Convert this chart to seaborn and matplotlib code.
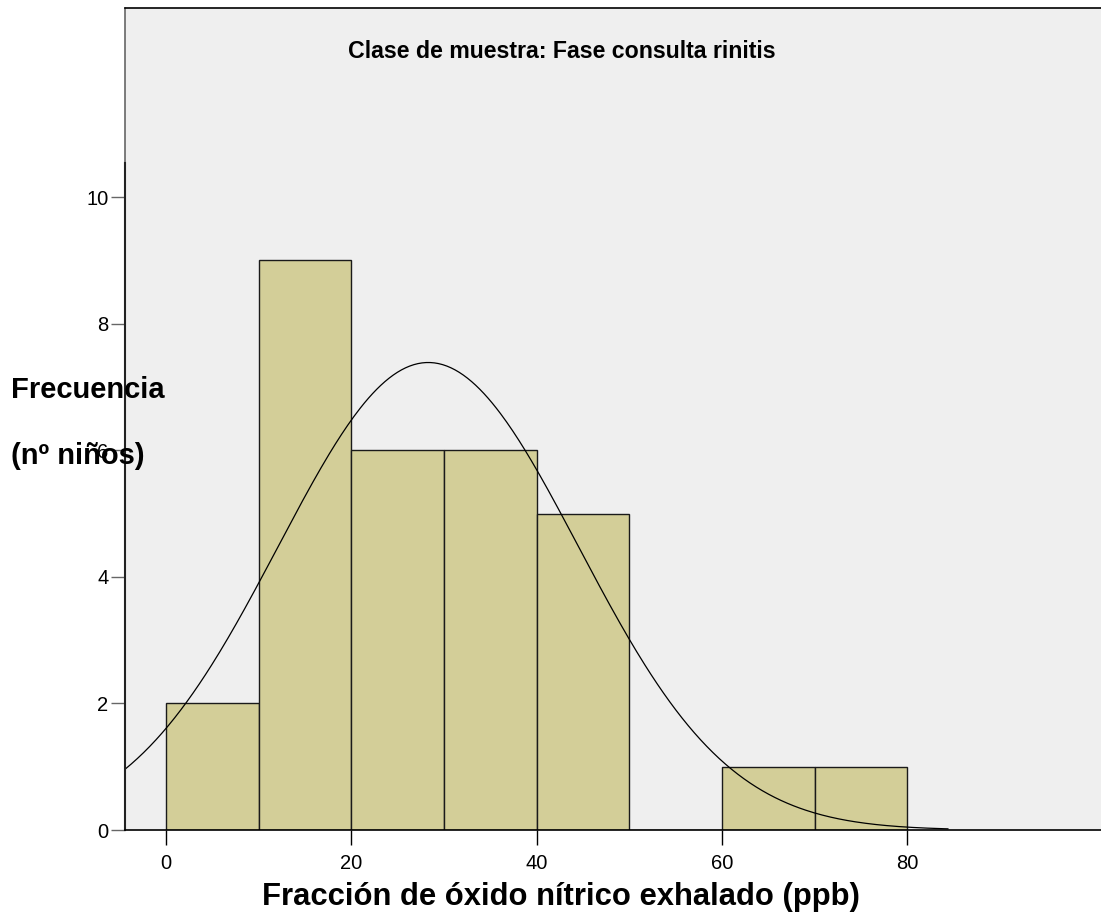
import numpy as np
import matplotlib
matplotlib.use("Agg")
import matplotlib.pyplot as plt
import seaborn as sns

# Data
bin_edges = [0, 10, 20, 30, 40, 50, 60, 70, 80]
counts = [2, 9, 6, 6, 5, 0, 1, 1]
curve_mean = 28.3
curve_sd = 16.2
n_total = 30
bin_width = 10
x_ticks = [0, 20, 40, 60, 80]
y_ticks = [0, 2, 4, 6, 8, 10]
title = "Clase de muestra: Fase consulta rinitis"
xlabel = "Fracción de óxido nítrico exhalado (ppb)"
ylabel_lines = ["Frecuencia", "(nº niños)"]

sns.set_theme(style="white")
plt.rcParams['font.family'] = ['Liberation Sans', 'DejaVu Sans']
plt.rcParams['text.color'] = 'black'
plt.rcParams['xtick.labelcolor'] = 'black'
plt.rcParams['ytick.labelcolor'] = 'black'

W, H = 1101, 916
fig = plt.figure(figsize=(W / 100, H / 100), dpi=100)
ax = fig.add_axes([125 / W, (H - 830) / H, (1101 - 125) / W, (830 - 8) / H])
ax.set_facecolor("#EFEFEF")

centers = [(a + b) / 2 for a, b in zip(bin_edges[:-1], bin_edges[1:])]
sns.histplot(x=centers, weights=counts, bins=bin_edges, ax=ax,
             color="#D3CE98", alpha=1.0, edgecolor="#1a1a1a", linewidth=1.0)

xmin, xmax = -4.43, 100.9
xs = np.linspace(xmin, 84.4, 400)
ys = n_total * bin_width / (curve_sd * np.sqrt(2 * np.pi)) * np.exp(-0.5 * ((xs - curve_mean) / curve_sd) ** 2)
ax.plot(xs, ys, color="black", linewidth=0.9)

ax.set_xlim(xmin, xmax)
ax.set_ylim(0, 12.99)
ax.set_xticks(x_ticks)
ax.set_yticks(y_ticks)
ax.tick_params(axis="x", direction="out", length=11, width=1, color="black",
               labelsize=14.5, labelcolor="black", pad=6, bottom=True)
ax.tick_params(axis="y", direction="out", length=10, width=1, color="#666666",
               labelsize=14.5, labelcolor="black", pad=2, left=True)
ax.set_xlabel("")
ax.set_ylabel("")

ax.spines["right"].set_visible(False)
ax.spines["top"].set_color("black")
ax.spines["top"].set_linewidth(1.2)
ax.spines["bottom"].set_color("black")
ax.spines["bottom"].set_linewidth(1.2)
ax.spines["left"].set_color("#222222")
ax.spines["left"].set_linewidth(1.5)
ax.spines["left"].set_bounds(0, 10.54)
ax.plot([0, 0], [10.54, 12.99], transform=ax.get_yaxis_transform(),
        color="#666666", linewidth=1.2, clip_on=False)

ax.text(0.448, 1 - (52 - 8) / 822, title, transform=ax.transAxes,
        ha="center", va="center", fontsize=16.7, fontweight="bold", color="black")

fig.text(561 / W, 1 - 897 / H, xlabel, ha="center", va="center",
         fontsize=22.3, fontweight="bold", color="black")
fig.text(11 / W, 1 - 390 / H, ylabel_lines[0], ha="left", va="center",
         fontsize=21, fontweight="bold", color="black")
fig.text(11 / W, 1 - 456 / H, ylabel_lines[1], ha="left", va="center",
         fontsize=21, fontweight="bold", color="black")

fig.savefig("out.png", dpi=100, facecolor="white")
